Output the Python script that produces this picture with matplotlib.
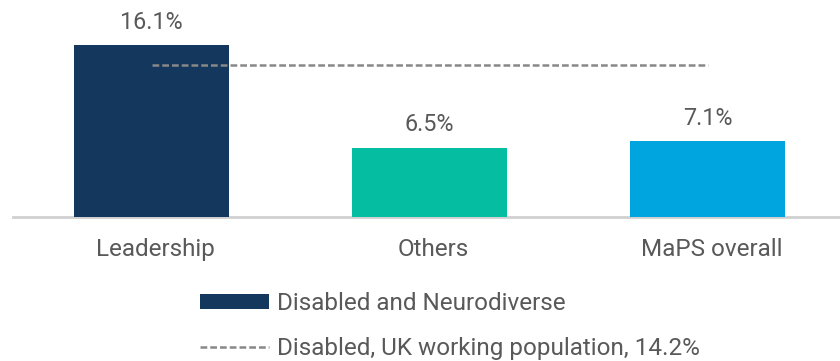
import matplotlib.pyplot as plt
import matplotlib.transforms as mtransforms
from matplotlib.lines import Line2D
from matplotlib.patches import Patch

plt.rcParams['font.family'] = ['Roboto', 'DejaVu Sans']

categories = ["Leadership", "Others", "MaPS overall"]
values = [16.1, 6.5, 7.1]
value_labels = ["16.1%", "6.5%", "7.1%"]
benchmark = 14.2
benchmark_label = "Disabled, UK working population, 14.2%"
series_label = "Disabled and Neurodiverse"

colors = ["#14375E", "#05BDA0", "#00A5DF"]
text_color = "#595959"
dash_color = "#888888"
dash_style = (2.7, 1.2)

W, H = 840, 361
fig = plt.figure(figsize=(W / 100, H / 100), dpi=100)

# axes spans past the right edge so the 3 slots are equal width
px_per_unit = 10.68
base_y = 217
ymax = 18
ax = fig.add_axes([12.5 / W, (H - base_y) / H, 834 / W, ymax * px_per_unit / H])

x = range(len(categories))
ax.bar(x, values, width=0.557, color=colors, zorder=2)
ax.plot([0, 2], [benchmark, benchmark], color=dash_color, lw=1.8,
        dashes=dash_style, zorder=3)

for i, (v, lab) in enumerate(zip(values, value_labels)):
    ax.annotate(lab, (i, v), xytext=(0, 8), textcoords="offset points",
                ha="center", va="bottom", fontsize=16.8, color=text_color)

ax.set_xlim(-0.5, 2.5)
ax.set_ylim(0, ymax)
ax.set_xticks(list(x))
ax.set_xticklabels(categories, fontsize=17.5, color=text_color)
ax.tick_params(axis="x", length=0, pad=15)
# nudge category labels slightly right
shift = mtransforms.ScaledTranslation(3 / 72, 0, fig.dpi_scale_trans)
for lbl in ax.get_xticklabels():
    lbl.set_transform(lbl.get_transform() + shift)
ax.set_yticks([])
for s in ["top", "right", "left"]:
    ax.spines[s].set_visible(False)
ax.spines["bottom"].set_color("#D0D0D0")
ax.spines["bottom"].set_linewidth(2)
ax.spines["bottom"].set_zorder(1)

handles = [
    Patch(facecolor=colors[0], edgecolor="none"),
    Line2D([0], [0], color=dash_color, lw=1.8, dashes=dash_style),
]
fig.legend(handles, [series_label, benchmark_label],
           loc="upper left", bbox_to_anchor=(200 / W, 1 - 292 / H),
           frameon=False, fontsize=17.5, labelcolor=text_color,
           handlelength=2.84, handleheight=0.58, handletextpad=0.33,
           labelspacing=0.92, borderpad=0, borderaxespad=0)

fig.savefig("out.png", dpi=100)
